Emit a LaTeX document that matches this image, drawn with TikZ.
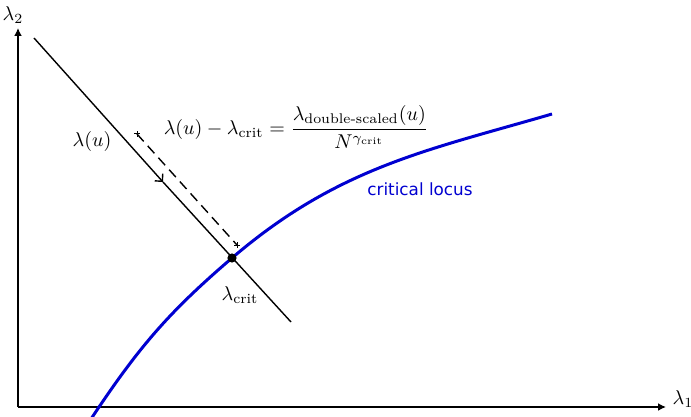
\documentclass[tikz,border=0pt]{standalone}
\usepackage{amsmath,amssymb}
\usepackage{fontspec}
\usepackage{xcolor}
\usepackage{tikz}
\usetikzlibrary{arrows.meta}
\newfontfamily\locusfont{DejaVu Sans}
\definecolor{locusblue}{RGB}{0,0,208}
\newcommand{\lcrit}{\lambda_{\mathrm{crit}}}

\begin{document}
\begin{tikzpicture}[x=0.5pt, y=-0.5pt,
  axis/.style={line width=1pt, -{Latex[length=4pt, width=4pt]}},
  path/.style={line width=0.7pt},
  locus/.style={locusblue, line width=1.5pt},
  dot/.style={circle, fill=black, inner sep=0pt, minimum size=4.6pt},
  plus/.style={line width=0.5pt}]
\useasboundingbox (0,0) rectangle (691,417);
% axes
\coordinate (O) at (18,407);
\coordinate (xend) at (666,407);
\coordinate (yend) at (18,28);
\draw[axis] (O) -- (xend);
\draw[axis] (O) -- (yend);
\node (l1) at (683,399) {$\lambda_1$};
\node (l2) at (13,15) {$\lambda_2$};
% the path lambda(u)
\coordinate (pa) at (34,38);
\coordinate (pm) at (163,182);
\coordinate (pb) at (291,322);
\draw[path, -{Straight Barb[angle=90:3.8pt]}] (pa) -- (pm);
\draw[path] (pm) -- (pb);
\node (lu) at (92,142) {$\lambda(u)$};
% critical locus
\coordinate (cp) at (232,258);
\coordinate (la) at (91,419);
\coordinate (lb) at (552,114);
\draw[locus] (la) .. controls (137.8,348.5) and (167.4,313.3) .. (cp)
  .. controls (338.4,167) and (427.2,150.4) .. (lb);
\node[locusblue, font=\locusfont\fontsize{8.4}{10}\selectfont] (cl) at (420,189) {critical locus};
\node[dot] (crit) at (cp) {};
\node (lc) at (240,295) {$\lcrit$};
% double scaling distance
\coordinate (da) at (137,134);
\coordinate (db) at (237,245);
\draw[path, dashed, dash pattern=on 5pt off 3pt] (da) -- (db);
\foreach \p in {da,db}
  \draw[plus] ([xshift=-1.5pt]\p) -- ([xshift=1.5pt]\p) ([yshift=-1.5pt]\p) -- ([yshift=1.5pt]\p);
\node (eq) at (296,127) {$\displaystyle \lambda(u)-\lcrit=\frac{\lambda_{\text{double-scaled}}(u)}{N^{\gamma_{\mathrm{crit}}}}$};
\end{tikzpicture}
\end{document}
